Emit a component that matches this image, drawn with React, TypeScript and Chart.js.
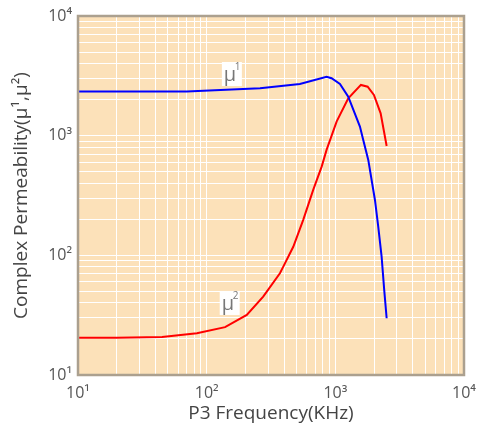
import React, { useEffect, useRef } from 'react';
import { Chart, registerables } from 'chart.js';

Chart.register(...registerables);

// μ' (real part) – frequency in kHz, permeability
const muRealFreq = [10, 70, 260, 530, 855, 935, 1086, 1260, 1553, 1648, 1803, 2032, 2155, 2289, 2398, 2505];
const muRealVal = [2335, 2335, 2490, 2705, 3110, 3020, 2705, 2120, 1190, 920, 627, 290, 174, 97.5, 51.4, 29.8];

// μ'' (imaginary part)
const muImagFreq = [10, 20, 45, 84, 139, 205, 275, 371, 394, 471, 563, 673, 783, 855, 1023, 1260, 1581, 1783, 1995, 2250, 2505];
const muImagVal = [20.5, 20.5, 20.8, 22.3, 25.1, 31.8, 45.2, 70.8, 80.5, 118, 198, 352, 551, 760, 1310, 2050, 2655, 2566, 2188, 1538, 820];

const decades = [10, 100, 1000, 10000];
const decadeLabels = ['10¹', '10²', '10³', '10⁴'];

const seriesNames = ['μ', 'μ'];
const seriesSup = ['1', '2'];
// label anchors in data coordinates (x = kHz, y = permeability)
const labelAnchorX = [157, 151];
const labelAnchorY = [3275, 40];

const xTitle = 'P3 Frequency(KHz)';
const yTitle = 'Complex Permeability(μ¹,μ²)';

const FONT = "'Open Sans', 'DejaVu Sans', sans-serif";

function gridValues(): number[] {
  const out: number[] = [];
  for (let i = 0; i < decades.length - 1; i++) {
    for (let k = 1; k <= 9; k++) out.push(k * decades[i]);
  }
  out.push(decades[decades.length - 1]);
  return out;
}

const decorPlugin = {
  id: 'decor',
  beforeDraw(chart: any) {
    const { ctx, chartArea: a } = chart;
    ctx.save();
    ctx.fillStyle = '#FCE1B9';
    ctx.fillRect(a.left, a.top, a.right - a.left, a.bottom - a.top);
    ctx.restore();
  },
  afterDatasetsDraw(chart: any) {
    const { ctx } = chart;
    const xs = chart.scales.x;
    const ys = chart.scales.y;
    ctx.save();
    for (let i = 0; i < seriesNames.length; i++) {
      const cx = xs.getPixelForValue(labelAnchorX[i]);
      const cy = ys.getPixelForValue(labelAnchorY[i]);
      ctx.fillStyle = '#FFFFFF';
      ctx.fillRect(cx - 10, cy - 12, 20, 24);
      ctx.fillStyle = '#777777';
      ctx.font = `20px ${FONT}`;
      ctx.textBaseline = 'alphabetic';
      ctx.textAlign = 'left';
      ctx.fillText(seriesNames[i], cx - 8, cy + 7);
      ctx.font = `10px ${FONT}`;
      ctx.fillText(seriesSup[i], cx + 3, cy - 4);
    }
    ctx.restore();
  },
  afterDraw(chart: any) {
    const { ctx, chartArea: a } = chart;
    ctx.save();
    ctx.strokeStyle = '#ABA08F';
    ctx.lineWidth = 2.5;
    ctx.strokeRect(a.left, a.top, a.right - a.left, a.bottom - a.top);
    ctx.restore();
  },
};

export default function App() {
  const ref = useRef<HTMLCanvasElement>(null);

  useEffect(() => {
    if (!ref.current) return;
    const grid = gridValues();
    const tickCb = (value: any) => {
      const i = decades.indexOf(Number(value));
      return i >= 0 ? decadeLabels[i] : '';
    };
    const buildTicks = (scale: any) => {
      scale.ticks = grid.map((v) => ({ value: v, major: decades.includes(v) }));
    };
    const chart = new Chart(ref.current, {
      type: 'scatter',
      data: {
        datasets: [
          {
            label: "μ'",
            data: muRealFreq.map((f, i) => ({ x: f, y: muRealVal[i] })),
            showLine: true,
            borderColor: '#0000FF',
            backgroundColor: '#0000FF',
            borderWidth: 2,
            pointRadius: 0,
            tension: 0,
          },
          {
            label: 'μ"',
            data: muImagFreq.map((f, i) => ({ x: f, y: muImagVal[i] })),
            showLine: true,
            borderColor: '#FF0000',
            backgroundColor: '#FF0000',
            borderWidth: 2,
            pointRadius: 0,
            tension: 0,
          },
        ],
      },
      options: {
        responsive: false,
        animation: false,
        layout: { padding: { top: 16, right: 22, left: 0, bottom: 0 } },
        plugins: {
          legend: { display: false },
          tooltip: { enabled: false },
        },
        scales: {
          x: {
            type: 'logarithmic',
            min: 10,
            max: 10000,
            afterBuildTicks: buildTicks,
            afterFit: (s: any) => {
              s.height = 53;
            },
            grid: { color: '#FFFFFF', lineWidth: 1, drawTicks: false },
            border: { display: false },
            ticks: {
              autoSkip: false,
              maxRotation: 0,
              padding: 9,
              color: '#555555',
              font: { family: FONT, size: 16 },
              callback: tickCb,
            },
            title: {
              display: true,
              text: xTitle,
              color: '#444444',
              font: { family: FONT, size: 19 },
              padding: { top: 0, bottom: 3 },
            },
          },
          y: {
            type: 'logarithmic',
            min: 10,
            max: 10000,
            afterBuildTicks: buildTicks,
            afterFit: (s: any) => {
              s.width = 78;
            },
            grid: { color: '#FFFFFF', lineWidth: 1, drawTicks: false },
            border: { display: false },
            ticks: {
              autoSkip: false,
              padding: 6,
              color: '#555555',
              font: { family: FONT, size: 16 },
              callback: tickCb,
            },
            title: {
              display: true,
              text: yTitle,
              color: '#444444',
              font: { family: FONT, size: 19 },
              padding: { top: 10, bottom: 0 },
            },
          },
        },
      },
      plugins: [decorPlugin],
    } as any);
    return () => chart.destroy();
  }, []);

  return (
    <div style={{ position: 'fixed', left: 0, top: 0, width: 486, height: 428, background: '#FFFFFF' }}>
      <canvas ref={ref} width={486} height={428} />
    </div>
  );
}
